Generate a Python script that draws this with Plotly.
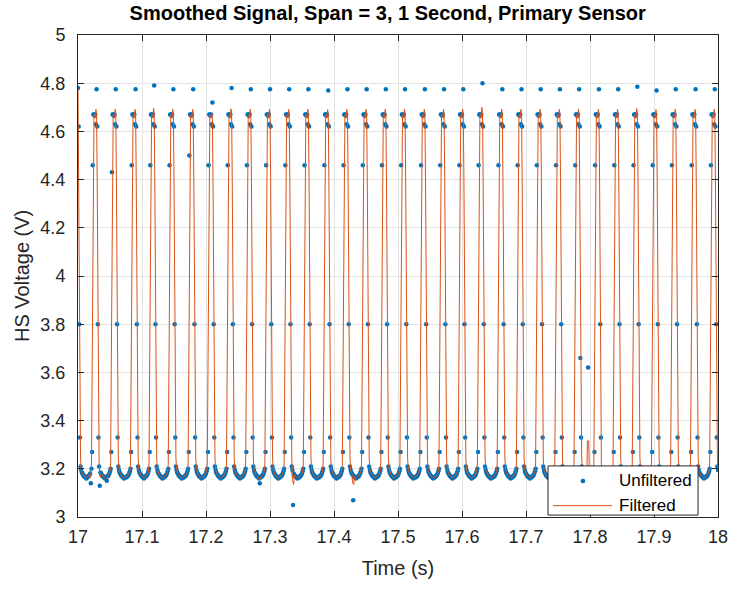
import numpy as np
import plotly.graph_objects as go

# ---- data ----
# times of the top spike sample of each pulse (s)
spike_times = [17.0000, 17.0292, 17.0594, 17.0895, 17.1192, 17.1495, 17.1797, 17.2098,
               17.2402, 17.2703, 17.3000, 17.3302, 17.3605, 17.3911, 17.4214, 17.4511,
               17.4813, 17.5114, 17.5417, 17.5719, 17.6020, 17.6323, 17.6630, 17.6933,
               17.7230, 17.7531, 17.7833, 17.8136, 17.8438, 17.8739, 17.9042, 17.9344,
               17.9645, 17.9948]
# value of the top spike sample of each pulse (V)
spike_values = [4.78, 4.775, 4.775, 4.775, 4.79, 4.775, 4.775, 4.72,
                4.78, 4.775, 4.775, 4.775, 4.775, 4.77, 4.775, 4.775,
                4.775, 4.775, 4.775, 4.775, 4.775, 4.80, 4.775, 4.775,
                4.775, 4.775, 4.775, 4.775, 4.775, 4.785, 4.77, 4.775,
                4.775, 4.775]
# shape of one pulse, sample offset (ms) from the spike -> voltage (V)
pulse_offsets = list(range(-15, 16))
pulse_values = [3.165, 3.165, 3.17, 3.17, 3.175, 3.18, 3.19, 3.20, 3.27, 4.46,
                4.67, 4.67, 4.665, 4.67, 4.63, 4.78, 4.62, 3.80, 3.33, 3.21,
                3.195, 3.185, 3.18, 3.175, 3.17, 3.17, 3.165, 3.165, 3.16, 3.165, 3.165]
# individual samples that stand out from the pattern
odd_times = [17.020, 17.034, 17.045, 17.053, 17.174, 17.284, 17.336, 17.430,
             17.797, 17.785, 17.818, 17.882]
odd_values = [3.14, 3.13, 3.15, 4.43, 4.50, 3.14, 3.05, 3.07,
              3.62, 3.66, 2.86, 2.88]

x_ticks = [17.0, 17.1, 17.2, 17.3, 17.4, 17.5, 17.6, 17.7, 17.8, 17.9, 18.0]
x_tick_labels = ["17", "17.1", "17.2", "17.3", "17.4", "17.5", "17.6", "17.7", "17.8", "17.9", "18"]
y_ticks = [3.0, 3.2, 3.4, 3.6, 3.8, 4.0, 4.2, 4.4, 4.6, 4.8, 5.0]
y_tick_labels = ["3", "3.2", "3.4", "3.6", "3.8", "4", "4.2", "4.4", "4.6", "4.8", "5"]
series_names = ["Unfiltered", "Filtered"]

sample_period = 0.001
t0, t1 = 17.0, 18.0

# ---- build series ----
n = int(round((t1 - t0) / sample_period)) + 1
t = np.round(t0 + np.arange(n) * sample_period, 4)
spike_idx = np.rint((np.array(spike_times) - t0) / sample_period).astype(int)
tmpl = dict(zip(pulse_offsets, pulse_values))
raw = np.empty(n)
for i in range(n):
    k = int(np.argmin(np.abs(spike_idx - i)))
    off = int(i - spike_idx[k])
    off = max(-15, min(15, off))
    raw[i] = spike_values[k] if off == 0 else tmpl[off]
for ot, ov in zip(odd_times, odd_values):
    raw[int(np.argmin(np.abs(t - ot)))] = ov

filt = raw.copy()
filt[1:-1] = (raw[:-2] + raw[1:-1] + raw[2:]) / 3.0

FONT = "Liberation Sans, Arial, Helvetica"
TXT = "#262626"
BLUE = "#0072BD"
ORANGE = "#D95319"

fig = go.Figure()
fig.add_trace(go.Scatter(x=t, y=raw, mode="markers", name=series_names[0], showlegend=False,
                         marker=dict(color=BLUE, size=4.5, line=dict(width=0))))
fig.add_trace(go.Scatter(x=t, y=filt, mode="lines", name=series_names[1], showlegend=False,
                         line=dict(color=ORANGE, width=1)))

axis_common = dict(showgrid=True, gridcolor="#e3e3e3", gridwidth=1, zeroline=False,
                   showline=True, linecolor=TXT, linewidth=1, mirror="ticks",
                   ticks="inside", ticklen=6, tickcolor=TXT, automargin=False,
                   tickfont=dict(family=FONT, size=18, color=TXT))
fig.update_xaxes(range=[17, 18], tickmode="array", tickvals=x_ticks, ticktext=x_tick_labels,
                 ticklabelstandoff=3,
                 title=dict(text="Time (s)", font=dict(family=FONT, size=20, color=TXT)),
                 **axis_common)
fig.update_yaxes(range=[3, 5], tickmode="array", tickvals=y_ticks, ticktext=y_tick_labels,
                 ticklabelstandoff=8, **axis_common)
fig.add_annotation(xref="paper", yref="paper", x=-0.0875, y=0.5, text="HS Voltage (V)",
                   textangle=-90, showarrow=False, xanchor="center", yanchor="middle",
                   font=dict(family=FONT, size=20, color=TXT))

# legend box (paper coordinates of the plot area), drawn like MATLAB's
lx0, lx1, ly0, ly1 = 0.7344, 0.9688, 0.004, 0.106
fig.add_shape(type="rect", xref="paper", yref="paper", x0=lx0, x1=lx1, y0=ly0, y1=ly1,
              fillcolor="white", line=dict(color=TXT, width=1), layer="above")
fig.add_shape(type="line", xref="paper", yref="paper", x0=0.7422, x1=0.8344, y0=0.0235, y1=0.0235,
              line=dict(color=ORANGE, width=1), layer="above")
fig.add_shape(type="circle", xref="paper", yref="paper", x0=0.789 - 0.0037, x1=0.789 + 0.0037,
              y0=0.0747 - 0.0049, y1=0.0747 + 0.0049, fillcolor=BLUE, line=dict(width=0), layer="above")
for name, yy in zip(series_names, [0.0747, 0.0235]):
    fig.add_annotation(xref="paper", yref="paper", x=0.8422, y=yy, text=name, showarrow=False,
                       xanchor="left", yanchor="middle",
                       font=dict(family=FONT, size=17, color="black"))

fig.update_layout(
    width=733, height=607,
    margin=dict(l=78, r=15, t=35, b=90),
    paper_bgcolor="white", plot_bgcolor="white",
    title=dict(text="<b>Smoothed Signal, Span = 3, 1 Second, Primary Sensor</b>",
               x=0.529, xanchor="center", y=0.979, yanchor="middle",
               font=dict(family=FONT, size=20, color="black")),
    showlegend=False,
)
fig.write_html("out.html", config={"displayModeBar": False},
               post_script="document.body.style.margin='0';document.body.style.overflow='hidden';")
